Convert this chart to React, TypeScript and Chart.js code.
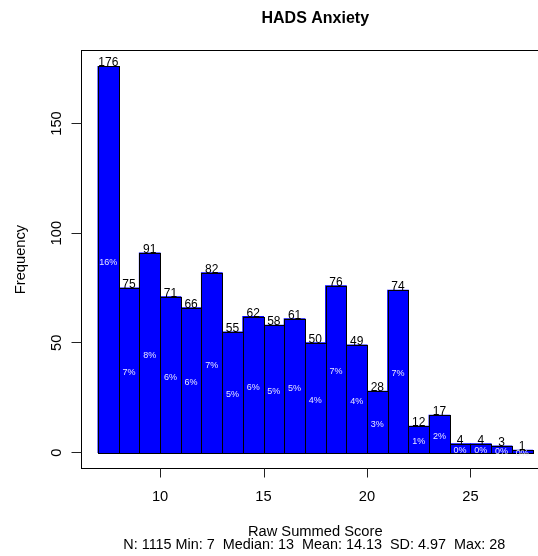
import React, { useEffect, useRef } from "react";
import { Chart, registerables } from "chart.js";

Chart.register(...registerables);

const binStarts = [7, 8, 9, 10, 11, 12, 13, 14, 15, 16, 17, 18, 19, 20, 21, 22, 23, 24, 25, 26, 27];
const counts = [176, 75, 91, 71, 66, 82, 55, 62, 58, 61, 50, 76, 49, 28, 74, 12, 17, 4, 4, 3, 1];
const pctLabels = ["16%", "7%", "8%", "6%", "6%", "7%", "5%", "6%", "5%", "5%", "4%", "7%", "4%", "3%", "7%", "1%", "2%", "0%", "0%", "0%", "0%"];
const xTicks = [10, 15, 20, 25];
const yTicks = [0, 50, 100, 150];
const titleText = "HADS Anxiety";
const xTitle = "Raw Summed Score";
const subTitle = "N: 1115 Min: 7  Median: 13  Mean: 14.13  SD: 4.97  Max: 28";
const yTitle = "Frequency";

const FONT = '"Liberation Sans", Arial, Helvetica, sans-serif';

const decorPlugin = {
  id: "decor",
  afterDatasetsDraw(chart: any) {
    const { ctx, chartArea: a, scales } = chart;
    const x = scales.x;
    const y = scales.y;
    ctx.save();

    // crisp bar outlines from the bar elements' geometry
    const meta = chart.getDatasetMeta(0);
    ctx.strokeStyle = "#000";
    ctx.lineWidth = 1;
    meta.data.forEach((el: any) => {
      const L = Math.round(el.x - el.width / 2) + 0.5;
      const R = Math.round(el.x + el.width / 2) + 0.5;
      const T = Math.round(el.y) + 0.5;
      const B = Math.round(el.base) + 0.5;
      ctx.strokeRect(L, T, R - L, B - T);
    });

    // plot box
    const bl = Math.round(a.left) + 0.5;
    const bt = Math.round(a.top) - 0.5;
    const bb = Math.round(a.bottom) + 0.5;
    const br = Math.round(a.right) + 0.5;
    ctx.strokeRect(bl, bt, br - bl, bb - bt);

    // bar labels
    ctx.textAlign = "center";
    ctx.textBaseline = "alphabetic";
    counts.forEach((c, i) => {
      const cx = x.getPixelForValue(binStarts[i] + 0.5);
      ctx.fillStyle = "#000";
      ctx.font = `12px ${FONT}`;
      ctx.fillText(String(c), cx, y.getPixelForValue(c));
    });
    ctx.save();
    ctx.beginPath();
    ctx.rect(a.left, a.top, a.right - a.left, a.bottom - a.top);
    ctx.clip();
    counts.forEach((c, i) => {
      const cx = x.getPixelForValue(binStarts[i] + 0.5);
      ctx.fillStyle = "#e6e6ff";
      ctx.font = `9px ${FONT}`;
      ctx.fillText(pctLabels[i], cx, y.getPixelForValue(c / 2) + 5);
    });
    ctx.restore();

    // x axis ticks
    ctx.strokeStyle = "#222";
    ctx.fillStyle = "#000";
    ctx.font = `14.7px ${FONT}`;
    xTicks.forEach((v) => {
      const px = Math.round(x.getPixelForValue(v)) + 0.5;
      ctx.beginPath();
      ctx.moveTo(px, bb);
      ctx.lineTo(px, bb + 9);
      ctx.stroke();
      ctx.fillText(String(v), x.getPixelForValue(v), 500.5);
    });

    // y axis ticks
    yTicks.forEach((v) => {
      const py = Math.round(y.getPixelForValue(v) - 0.5) + 0.5;
      ctx.beginPath();
      ctx.moveTo(bl - 10, py);
      ctx.lineTo(bl, py);
      ctx.stroke();
      ctx.save();
      ctx.translate(61, y.getPixelForValue(v));
      ctx.rotate(-Math.PI / 2);
      ctx.fillText(String(v), 0, 0);
      ctx.restore();
    });

    const midX = (a.left + a.right) / 2;
    const midY = (a.top + a.bottom) / 2;

    // titles
    ctx.font = `bold 16px ${FONT}`;
    ctx.fillText(titleText, midX, 23.3);
    ctx.font = `14.7px ${FONT}`;
    ctx.fillText(xTitle, midX, 536);
    ctx.font = `14.4px ${FONT}`;
    ctx.fillText(subTitle, midX - 1, 548.5);
    ctx.font = `14.7px ${FONT}`;
    ctx.save();
    ctx.translate(25, midY);
    ctx.rotate(-Math.PI / 2);
    ctx.fillText(yTitle, 0, 0);
    ctx.restore();

    ctx.restore();
  },
};

export default function App() {
  const ref = useRef<HTMLCanvasElement | null>(null);

  useEffect(() => {
    if (!ref.current) return;
    const chart = new Chart(ref.current, {
      type: "bar",
      data: {
        datasets: [
          {
            data: binStarts.map((s, i) => ({ x: s + 0.5, y: counts[i] })) as any,
            backgroundColor: "#0000ff",
            borderWidth: 0,
            inflateAmount: 0.5,
            barPercentage: 1,
            categoryPercentage: 1,
          } as any,
        ],
      },
      options: {
        responsive: false,
        animation: false,
        events: [],
        layout: { padding: { left: 80.6, top: 51, right: 10.1, bottom: 88 } },
        plugins: {
          legend: { display: false },
          tooltip: { enabled: false },
          title: { display: false },
        },
        scales: {
          x: { type: "linear", min: 6.16, max: 28.84, offset: false, display: false },
          y: { type: "linear", min: -7.04, max: 183.04, display: false },
        },
      },
      plugins: [decorPlugin],
    });
    return () => chart.destroy();
  }, []);

  return (
    <div
      style={{
        position: "fixed",
        left: 0,
        top: 0,
        width: 538,
        height: 556,
        overflow: "hidden",
        background: "#fff",
      }}
    >
      <canvas ref={ref} width={560} height={556} style={{ display: "block", width: 560, height: 556 }} />
    </div>
  );
}
